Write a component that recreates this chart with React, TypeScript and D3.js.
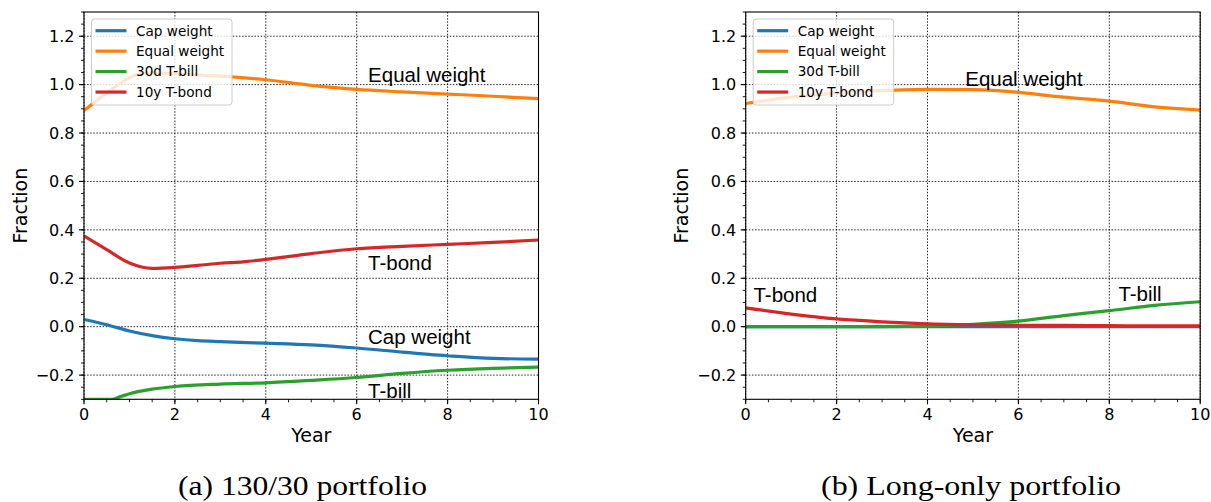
import React from "react";
import * as d3 from "d3";

// ---------- data ----------
const seriesNames = ["Cap weight", "Equal weight", "30d T-bill", "10y T-bond"];
const seriesColors = ["#1f77b4", "#ff7f0e", "#2ca02c", "#d62728"];

// Panel (a) 130/30 portfolio
const aCapX = [0, 0.5, 1, 1.5, 2, 2.5, 3, 4, 5, 6, 7, 8, 9, 10];
const aCapY = [0.03, 0.008, -0.018, -0.037, -0.05, -0.058, -0.062, -0.068, -0.075, -0.088, -0.105, -0.12, -0.131, -0.134];
const aEqX = [0, 0.5, 1, 1.25, 1.5, 2, 2.5, 3, 4, 5, 6, 7, 8, 9, 10];
const aEqY = [0.893, 0.965, 1.028, 1.046, 1.049, 1.045, 1.04, 1.035, 1.02, 0.997, 0.98, 0.97, 0.961, 0.952, 0.942];
const aBillX = [0, 0.6, 0.8, 1, 1.5, 2, 3, 4, 5, 6, 7, 8, 9, 10];
const aBillY = [-0.3, -0.3, -0.289, -0.277, -0.258, -0.247, -0.237, -0.232, -0.222, -0.21, -0.193, -0.18, -0.172, -0.167];
const aBondX = [0, 0.5, 1, 1.5, 2, 2.5, 3, 3.5, 4, 5, 6, 7, 8, 9, 10];
const aBondY = [0.375, 0.318, 0.263, 0.241, 0.245, 0.253, 0.262, 0.268, 0.278, 0.302, 0.322, 0.332, 0.34, 0.348, 0.358];

// Panel (b) Long-only portfolio
const bCapX = [0, 2, 4, 6, 8, 10];
const bCapY = [0, 0, 0, 0, 0, 0];
const bEqX = [0, 1, 2, 3, 4, 5, 6, 7, 8, 9, 10];
const bEqY = [0.922, 0.948, 0.965, 0.975, 0.98, 0.979, 0.968, 0.948, 0.932, 0.908, 0.895];
const bBillX = [0, 1, 2, 3, 4, 5, 6, 7, 8, 9, 10];
const bBillY = [0, 0, 0, 0, 0.002, 0.01, 0.023, 0.046, 0.066, 0.088, 0.103];
const bBondX = [0, 1, 2, 3, 4, 5, 6, 7, 8, 9, 10];
const bBondY = [0.078, 0.052, 0.032, 0.02, 0.012, 0.008, 0.006, 0.005, 0.004, 0.003, 0.003];

const xTicks = [0, 2, 4, 6, 8, 10];
const yTicks = [-0.2, 0.0, 0.2, 0.4, 0.6, 0.8, 1.0, 1.2];

const aLabels = ["Equal weight", "T-bond", "Cap weight", "T-bill"];
const aLabelX = [6.25, 6.25, 6.25, 6.25];
const aLabelY = [1.01, 0.234, -0.07, -0.295];
const bLabels = ["Equal weight", "T-bond", "T-bill"];
const bLabelX = [4.83, 0.17, 8.2];
const bLabelY = [0.994, 0.1, 0.106];

const captions = ["(a) 130/30 portfolio", "(b) Long-only portfolio"];

// ---------- layout ----------
const W = 1211, H = 502;
const TOP = 12, BOTTOM = 399.3;

type Series = { xs: number[]; ys: number[] };

function Panel(props: {
  id: string;
  left: number;
  right: number;
  series: Series[];
  labels: string[];
  labelX: number[];
  labelY: number[];
}) {
  const { id, left, right, series, labels, labelX, labelY } = props;
  const x = d3.scaleLinear().domain([0, 10]).range([left, right]);
  const y = d3.scaleLinear().domain([-0.3, 1.3]).range([BOTTOM, TOP]);
  const line = d3
    .line<[number, number]>()
    .x((d) => x(d[0]))
    .y((d) => y(d[1]))
    .curve(d3.curveMonotoneX);
  const xMinor = d3.range(0, 10.001, 0.5);
  const yMinor = d3.range(-0.3, 1.3001, 0.05);
  const lgX = left + 7.5;
  return (
    <g>
      <defs>
        <clipPath id={id}>
          <rect x={left} y={TOP} width={right - left} height={BOTTOM - TOP} />
        </clipPath>
      </defs>
      {/* grid */}
      {xTicks.map((t) => (
        <line key={"gx" + t} x1={x(t)} x2={x(t)} y1={TOP} y2={BOTTOM} stroke="#000" strokeWidth={1} strokeDasharray="1.5,1.6" opacity={0.85} />
      ))}
      {yTicks.map((t) => (
        <line key={"gy" + t} x1={left} x2={right} y1={y(t)} y2={y(t)} stroke="#000" strokeWidth={1} strokeDasharray="1.5,1.6" opacity={0.85} />
      ))}
      {/* series */}
      <g clipPath={`url(#${id})`}>
        {series.map((s, i) => (
          <path
            key={i}
            d={line(s.xs.map((v, j) => [v, s.ys[j]] as [number, number])) || ""}
            fill="none"
            stroke={seriesColors[i]}
            strokeWidth={3.2}
            strokeLinecap="butt"
          />
        ))}
      </g>
      {/* spines */}
      <rect x={left} y={TOP} width={right - left} height={BOTTOM - TOP} fill="none" stroke="#000" strokeWidth={1.1} />
      {/* ticks */}
      {xMinor.map((t) => (
        <line key={"xm" + t} x1={x(t)} x2={x(t)} y1={BOTTOM} y2={BOTTOM + 3} stroke="#000" strokeWidth={0.9} />
      ))}
      {xTicks.map((t) => (
        <g key={"xt" + t}>
          <line x1={x(t)} x2={x(t)} y1={BOTTOM} y2={BOTTOM + 5} stroke="#000" strokeWidth={1.1} />
          <text x={x(t)} y={419.5} textAnchor="middle" fontFamily="DejaVu Sans" fontSize={16} fill="#000">
            {String(t)}
          </text>
        </g>
      ))}
      {yMinor.map((t, i) => (
        <line key={"ym" + i} x1={left - 3} x2={left} y1={y(t)} y2={y(t)} stroke="#000" strokeWidth={0.9} />
      ))}
      {yTicks.map((t) => (
        <g key={"yt" + t}>
          <line x1={left - 5} x2={left} y1={y(t)} y2={y(t)} stroke="#000" strokeWidth={1.1} />
          <text x={left - 9.5} y={y(t)} dy="0.36em" textAnchor="end" fontFamily="DejaVu Sans" fontSize={16} fill="#000">
            {t < 0 ? "\u2212" + Math.abs(t).toFixed(1) : t.toFixed(1)}
          </text>
        </g>
      ))}
      {/* axis labels */}
      <text x={(left + right) / 2} y={442} textAnchor="middle" fontFamily="DejaVu Sans" fontSize={19} fill="#000">
        Year
      </text>
      <text
        transform={`translate(${left - 57.5},${(TOP + BOTTOM) / 2}) rotate(-90)`}
        textAnchor="middle"
        fontFamily="DejaVu Sans"
        fontSize={19}
        fill="#000"
      >
        Fraction
      </text>
      {/* annotations */}
      {labels.map((l, i) => (
        <text key={"an" + i} x={x(labelX[i])} y={y(labelY[i])} fontFamily="Liberation Sans, Arial" fontSize={20.5} fill="#000">
          {l}
        </text>
      ))}
      {/* legend */}
      <rect x={lgX} y={19} width={140.5} height={86} rx={3} ry={3} fill="#fff" fillOpacity={0.8} stroke="#cccccc" strokeWidth={1} />
      {seriesNames.map((n, i) => (
        <g key={"lg" + i}>
          <line x1={lgX + 4} x2={lgX + 35} y1={30.7 + i * 20.45} y2={30.7 + i * 20.45} stroke={seriesColors[i]} strokeWidth={3.2} />
          <text x={lgX + 44.5} y={30.7 + i * 20.45} dy="0.36em" fontFamily="DejaVu Sans" fontSize={13.6} fill="#000">
            {n}
          </text>
        </g>
      ))}
    </g>
  );
}

export default function App() {
  const aSeries: Series[] = [
    { xs: aCapX, ys: aCapY },
    { xs: aEqX, ys: aEqY },
    { xs: aBillX, ys: aBillY },
    { xs: aBondX, ys: aBondY },
  ];
  const bSeries: Series[] = [
    { xs: bCapX, ys: bCapY },
    { xs: bEqX, ys: bEqY },
    { xs: bBillX, ys: bBillY },
    { xs: bBondX, ys: bBondY },
  ];
  return (
    <div style={{ position: "absolute", left: 0, top: 0 }}>
      <svg width={W} height={H} style={{ display: "block", background: "#fff" }}>
        <Panel id="clipA" left={84} right={538.5} series={aSeries} labels={aLabels} labelX={aLabelX} labelY={aLabelY} />
        <Panel id="clipB" left={745.7} right={1200.2} series={bSeries} labels={bLabels} labelX={bLabelX} labelY={bLabelY} />
        <text x={178} y={495} fontFamily="Liberation Serif" fontSize={28} textLength={249} lengthAdjust="spacingAndGlyphs" fill="#000">
          {captions[0]}
        </text>
        <text x={821} y={495} fontFamily="Liberation Serif" fontSize={28} textLength={300} lengthAdjust="spacingAndGlyphs" fill="#000">
          {captions[1]}
        </text>
      </svg>
    </div>
  );
}
